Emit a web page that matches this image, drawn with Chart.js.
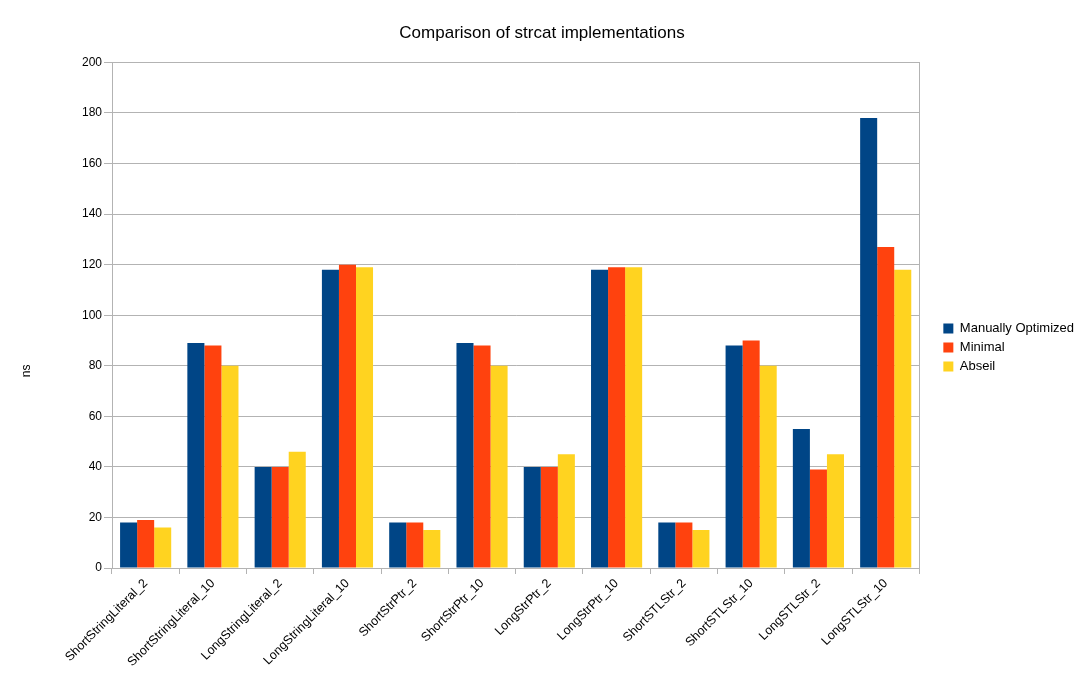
<!DOCTYPE html>
<html>
<head>
<meta charset="utf-8">
<script src="https://cdn.jsdelivr.net/npm/chart.js@4"></script>
<style>
  html, body { margin: 0; padding: 0; background: #fff; }
  #wrap { width: 1084px; height: 695px; }
</style>
</head>
<body>
<div id="wrap"><canvas id="chart" width="1084" height="695"></canvas></div>
<script>
const categories = [
  "ShortStringLiteral_2", "ShortStringLiteral_10", "LongStringLiteral_2", "LongStringLiteral_10",
  "ShortStrPtr_2", "ShortStrPtr_10", "LongStrPtr_2", "LongStrPtr_10",
  "ShortSTLStr_2", "ShortSTLStr_10", "LongSTLStr_2", "LongSTLStr_10",
];
const manuallyOptimized = [18, 89, 40, 118, 18, 89, 40, 118, 18, 88, 55, 178];
const minimal = [19, 88, 40, 120, 18, 88, 40, 119, 18, 90, 39, 127];
const abseil = [16, 80, 46, 119, 15, 80, 45, 119, 15, 80, 45, 118];
const yTitle = "ns";

const grid = "#b3b3b3";
Chart.defaults.font.family = "'Liberation Sans', Arial, sans-serif";
Chart.defaults.color = "#000";

// frame round the plot area, plus the y title placed a bit low like the office chart
const frame = {
  id: "frame",
  afterDraw(chart) {
    const a = chart.chartArea, ctx = chart.ctx;
    ctx.save();
    ctx.strokeStyle = grid;
    ctx.lineWidth = 1;
    ctx.strokeRect(Math.round(a.left) + 0.5, Math.round(a.top) + 0.5, Math.round(a.right - a.left), Math.round(a.bottom - a.top));
    ctx.translate(27, a.top + (a.bottom - a.top) * 0.61);
    ctx.rotate(-Math.PI / 2);
    ctx.fillStyle = "#000";
    ctx.font = "12px 'Liberation Sans', Arial, sans-serif";
    ctx.textAlign = "center";
    ctx.textBaseline = "middle";
    ctx.fillText(yTitle, 0, 0);
    ctx.restore();
  },
};

const config = {
  type: "bar",
  data: {
    labels: categories,
    datasets: [
      { label: "Manually Optimized", data: manuallyOptimized, backgroundColor: "#004586" },
      { label: "Minimal", data: minimal, backgroundColor: "#ff420e" },
      { label: "Abseil", data: abseil, backgroundColor: "#ffd320" },
    ],
  },
  options: {
    responsive: false,
    animation: false,
    devicePixelRatio: 1,
    layout: { padding: { left: 0, right: 0, top: 0, bottom: 0 } },
    datasets: { bar: { categoryPercentage: 0.76, barPercentage: 1 } },
    plugins: {
      title: {
        display: true,
        text: "Comparison of strcat implementations",
        font: { size: 17, weight: "normal" },
        padding: { top: 23, bottom: 19 },
      },
      legend: {
        position: "right",
        labels: { boxWidth: 10, boxHeight: 10, font: { size: 13 }, padding: 6 },
      },
      tooltip: { enabled: false },
    },
    scales: {
      x: {
        grid: { display: true, drawOnChartArea: false, color: grid, tickLength: 6 },
        border: { color: grid },
        ticks: { maxRotation: 45, minRotation: 45, font: { size: 12.5 }, padding: 2 },
        afterFit(s) { s.height = 127; },
      },
      y: {
        min: 0,
        max: 200,
        ticks: { stepSize: 20, font: { size: 12 }, padding: 2 },
        grid: { color: grid, tickLength: 8 },
        border: { color: grid },
        afterFit(s) { s.width = 112; },
      },
      // empty spacer between plot and legend
      gap: {
        type: "linear",
        position: "right",
        display: true,
        ticks: { display: false },
        grid: { display: false },
        border: { display: false },
        afterFit(s) { s.width = 18; },
      },
    },
  },
  plugins: [frame],
};

window.onload = function () {
  window.myBar = new Chart(document.getElementById("chart"), config);
};
</script>
</body>
</html>
